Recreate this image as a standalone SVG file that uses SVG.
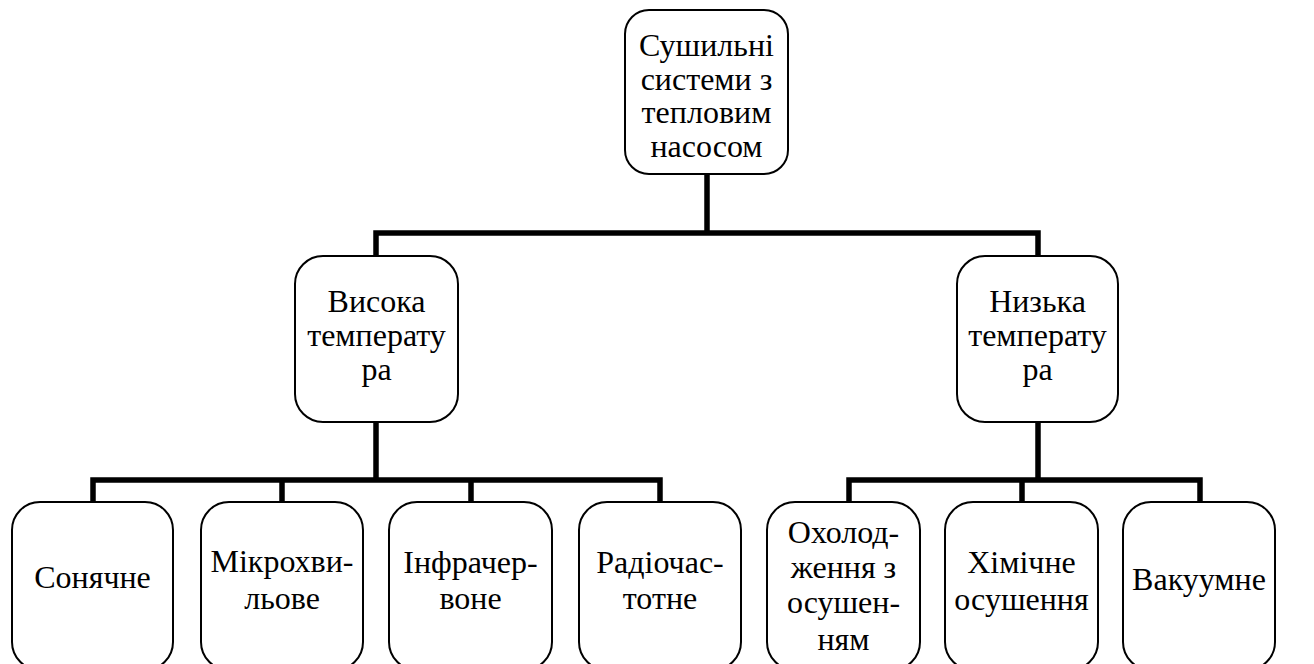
<svg xmlns="http://www.w3.org/2000/svg" width="1314" height="664" viewBox="0 0 1314 664">
<style>
.box{fill:#fff;stroke:#000;stroke-width:2}
.t{font-family:'Liberation Serif','Times New Roman',serif;font-size:32px;fill:#000;text-anchor:middle}
.c{fill:none;stroke:#000;stroke-width:5.5;stroke-linejoin:miter;stroke-linecap:butt}
</style>
<rect width="1314" height="664" fill="#fff"/>
<g id="connectors">
<path class="c" d="M707,174 V233 M376,256 V233 H1038 V256"/>
<path class="c" d="M376,422 V480 M93,502 V480 H660 V502 M282,480 V502 M471,480 V502"/>
<path class="c" d="M1038,422 V480 M849,502 V480 H1200 V502 M1022,480 V502"/>
</g>
<g id="root">
<rect class="box" x="625" y="10" width="163" height="164" rx="24"/>
<text class="t" x="706.5" y="56">Сушильні</text>
<text class="t" x="706.5" y="90">системи з</text>
<text class="t" x="706.5" y="123">тепловим</text>
<text class="t" x="706.5" y="157">насосом</text>
</g>
<g id="high">
<rect class="box" x="295" y="256" width="163" height="166" rx="28"/>
<text class="t" x="376.5" y="312">Висока</text>
<text class="t" x="376.5" y="346">температу</text>
<text class="t" x="376.5" y="380">ра</text>
</g>
<g id="low">
<rect class="box" x="957" y="256" width="161" height="166" rx="28"/>
<text class="t" x="1037.5" y="312">Низька</text>
<text class="t" x="1037.5" y="346">температу</text>
<text class="t" x="1037.5" y="380">ра</text>
</g>
<g id="solar">
<rect class="box" x="12" y="502" width="161" height="168" rx="28"/>
<text class="t" x="92.5" y="588">Сонячне</text>
</g>
<g id="microwave">
<rect class="box" x="201" y="502" width="162" height="168" rx="28"/>
<text class="t" x="282" y="572">Мікрохви-</text>
<text class="t" x="282" y="609">льове</text>
</g>
<g id="infrared">
<rect class="box" x="389" y="502" width="163" height="168" rx="28"/>
<text class="t" x="470.5" y="573">Інфрачер-</text>
<text class="t" x="470.5" y="609">воне</text>
</g>
<g id="radio">
<rect class="box" x="579" y="502" width="162" height="168" rx="28"/>
<text class="t" x="660" y="573">Радіочас-</text>
<text class="t" x="660" y="609">тотне</text>
</g>
<g id="cooling">
<rect class="box" x="767" y="502" width="153" height="168" rx="28"/>
<text class="t" x="843.5" y="543">Охолод-</text>
<text class="t" x="843.5" y="578">ження з</text>
<text class="t" x="843.5" y="613">осушен-</text>
<text class="t" x="843.5" y="650">ням</text>
</g>
<g id="chemical">
<rect class="box" x="945" y="502" width="153" height="168" rx="28"/>
<text class="t" x="1021.5" y="573">Хімічне</text>
<text class="t" x="1021.5" y="610">осушення</text>
</g>
<g id="vacuum">
<rect class="box" x="1123" y="502" width="152" height="168" rx="28"/>
<text class="t" x="1199" y="590">Вакуумне</text>
</g>
</svg>
